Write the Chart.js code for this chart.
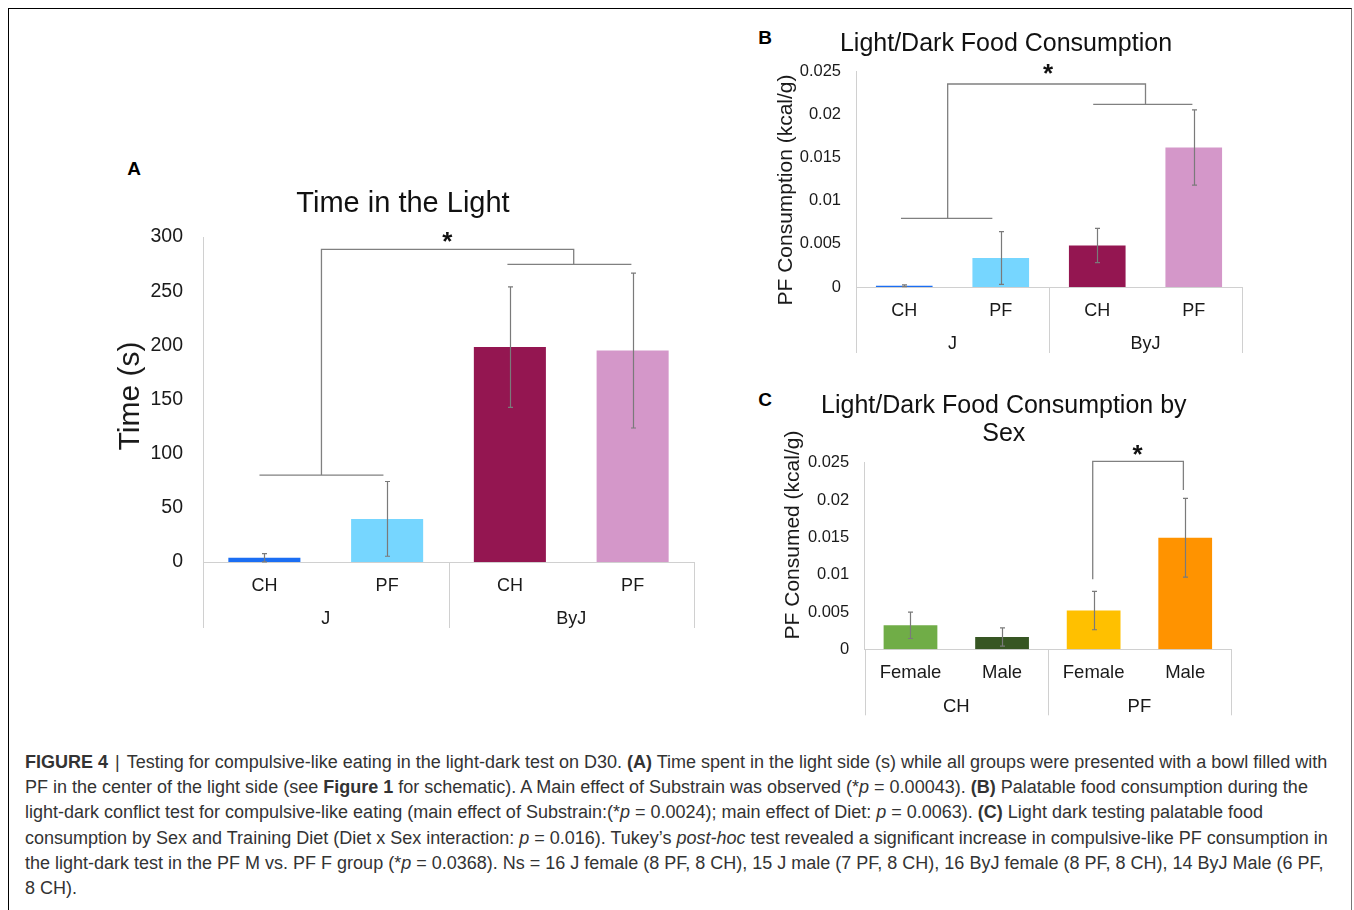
<!DOCTYPE html>
<html>
<head>
<meta charset="utf-8">
<script src="https://cdn.jsdelivr.net/npm/chart.js@4/dist/chart.umd.min.js"></script>
<style>
  html, body { margin: 0; padding: 0; background: #fff; overflow: hidden; }
  #fig { position: relative; width: 1354px; height: 910px; overflow: hidden; font-family: "Liberation Sans", Arial, sans-serif; }
  #frame { position: absolute; left: 8px; top: 8px; width: 1342px; height: 940px;
           border-top: 1.5px solid #000; border-left: 1.5px solid #000; border-right: 1.5px solid #777; }
  .panel { position: absolute; }
  .letter { position: absolute; font-weight: bold; font-size: 19px; line-height: 1; transform: translate(-50%, -50%); color: #000; }
  #caption { position: absolute; left: 25px; top: 750px; font-size: 18px; line-height: 25.2px; color: #333; }
  #caption div { white-space: nowrap; }
  #caption .sep { margin: 0 7px; }
</style>
</head>
<body>
<div id="fig">
  <div id="frame"></div>

  <div class="letter" style="left:134px;top:168px">A</div>
  <div class="letter" style="left:765px;top:37px">B</div>
  <div class="letter" style="left:765px;top:399px">C</div>

  <div class="panel" style="left:93px;top:150px"><canvas id="chartA" width="620" height="500"></canvas></div>
  <div class="panel" style="left:756px;top:15px"><canvas id="chartB" width="500" height="345"></canvas></div>
  <div class="panel" style="left:754px;top:380px"><canvas id="chartC" width="500" height="340"></canvas></div>

  <div id="caption">
    <div><b>FIGURE 4</b><span class="sep">|</span>Testing for compulsive-like eating in the light-dark test on D30. <b>(A)</b> Time spent in the light side (s) while all groups were presented with a bowl filled with</div>
    <div>PF in the center of the light side (see <b>Figure 1</b> for schematic). A Main effect of Substrain was observed (*<i>p</i> = 0.00043). <b>(B)</b> Palatable food consumption during the</div>
    <div>light-dark conflict test for compulsive-like eating (main effect of Substrain:(*<i>p</i> = 0.0024); main effect of Diet: <i>p</i> = 0.0063). <b>(C)</b> Light dark testing palatable food</div>
    <div>consumption by Sex and Training Diet (Diet x Sex interaction: <i>p</i> = 0.016). Tukey’s <i>post-hoc</i> test revealed a significant increase in compulsive-like PF consumption in</div>
    <div>the light-dark test in the PF M vs. PF F group (*<i>p</i> = 0.0368). Ns = 16 J female (8 PF, 8 CH), 15 J male (7 PF, 8 CH), 16 ByJ female (8 PF, 8 CH), 14 ByJ Male (6 PF,</div>
    <div>8 CH).</div>
  </div>
</div>

<script>
// ---- data ----
var catsA = ["CH", "PF", "CH", "PF"];
var groupsA = ["J", "ByJ"];
var timeA = [4, 39.8, 198.4, 195.2];
var semA = [3.8, 34.5, 55.6, 71.5];
var colorsA = ["#1b6ef3", "#76d6ff", "#941651", "#d497c9"];

var catsB = ["CH", "PF", "CH", "PF"];
var groupsB = ["J", "ByJ"];
var consB = [0.00015, 0.00337, 0.00482, 0.0162];
var semB = [0.0001, 0.00306, 0.00199, 0.00436];
var colorsB = ["#1b6ef3", "#76d6ff", "#941651", "#d497c9"];

var catsC = ["Female", "Male", "Female", "Male"];
var groupsC = ["CH", "PF"];
var consC = [0.00322, 0.00165, 0.00519, 0.01494];
var semC = [0.00177, 0.00123, 0.00257, 0.00528];
var colorsC = ["#70ad47", "#375623", "#ffc000", "#ff9300"];

// y axis ranges
var yMaxA = 300, yStepA = 50;
var yMaxB = 0.025, yStepB = 0.005;
var yMaxC = 0.025, yStepC = 0.005;

// significance brackets as [category index, value] polylines
var sigA = [
    [[-0.04, 80.2], [0.97, 80.2]],
    [[0.465, 80.2], [0.465, 288.6], [2.52, 288.6], [2.52, 274.7]],
    [[1.98, 274.7], [2.99, 274.7]]
];
var starA = [1.49, 301.5];
var sigB = [
    [[-0.034, 0.00797], [0.913, 0.00797]],
    [[0.45, 0.00797], [0.45, 0.02357], [2.5, 0.02357], [2.5, 0.02121]],
    [[1.958, 0.02121], [2.986, 0.02121]]
];
var starB = [1.49, 0.0255];
var sigC = [
    [[1.99, 0.00939], [1.99, 0.02518], [2.98, 0.02518], [2.98, 0.02133]]
];
var starC = [2.48, 0.0270];

var FONT = "'Liberation Sans', Arial, sans-serif";
var TEXT = "#1a1a1a";
var AXIS = "#d0d0d0";

// error bars, brackets, group axis and y title
var extrasPlugin = {
    id: "extras",
    afterDatasetsDraw: function (chart, args, o) {
        var ctx = chart.ctx;
        var xs = chart.scales.x, ys = chart.scales.y;
        var area = chart.chartArea;
        var vals = chart.data.datasets[0].data;
        var bars = chart.getDatasetMeta(0).data;
        ctx.save();

        // error bars
        ctx.strokeStyle = "#7a7a7a";
        ctx.lineWidth = 1.2;
        for (var i = 0; i < bars.length; i++) {
            var bx = Math.round(bars[i].x) + 0.5;
            var hi = ys.getPixelForValue(vals[i] + o.err[i]);
            var lo = ys.getPixelForValue(vals[i] - o.err[i]);
            ctx.beginPath();
            ctx.moveTo(bx, hi); ctx.lineTo(bx, lo);
            ctx.moveTo(bx - 2.5, hi); ctx.lineTo(bx + 2.5, hi);
            ctx.moveTo(bx - 2.5, lo); ctx.lineTo(bx + 2.5, lo);
            ctx.stroke();
        }

        // brackets
        ctx.strokeStyle = "#808080";
        ctx.lineWidth = 1.3;
        o.sig.forEach(function (line) {
            ctx.beginPath();
            line.forEach(function (p, k) {
                var px = xs.getPixelForValue(p[0]), py = ys.getPixelForValue(p[1]);
                if (k === 0) ctx.moveTo(px, py); else ctx.lineTo(px, py);
            });
            ctx.stroke();
        });
        ctx.fillStyle = "#111";
        ctx.font = "bold 26px " + FONT;
        ctx.textAlign = "center";
        ctx.textBaseline = "alphabetic";
        ctx.fillText("*", xs.getPixelForValue(o.star[0]), ys.getPixelForValue(o.star[1]) + 15);

        // group dividers + labels under the category labels
        ctx.strokeStyle = AXIS;
        ctx.lineWidth = 1;
        var per = chart.data.labels.length / o.groups.length;
        for (var g = 0; g <= o.groups.length; g++) {
            var gx = Math.round(xs.getPixelForValue(g * per - 0.5)) + 0.5;
            ctx.beginPath();
            ctx.moveTo(gx, area.bottom);
            ctx.lineTo(gx, area.bottom + 66);
            ctx.stroke();
        }
        ctx.fillStyle = TEXT;
        ctx.font = o.catSize + "px " + FONT;
        ctx.textBaseline = "middle";
        for (var k = 0; k < o.groups.length; k++) {
            ctx.fillText(o.groups[k], xs.getPixelForValue(k * per + (per - 1) / 2), area.bottom + 57.5);
        }

        // rotated y title
        ctx.translate(o.yTitle.x, o.yTitle.y);
        ctx.rotate(-Math.PI / 2);
        ctx.font = o.yTitle.size + "px " + FONT;
        ctx.fillText(o.yTitle.text, 0, 0);
        ctx.restore();
    }
};

function fmtTick(v) {
    return String(Number(v.toFixed(3)));
}

function makeBarChart(id, cats, vals, colors, err, groups, sig, star, lay) {
    var ctx = document.getElementById(id);
    return new Chart(ctx, {
        type: "bar",
        data: {
            labels: cats,
            datasets: [{
                data: vals,
                backgroundColor: colors,
                borderWidth: 0,
                categoryPercentage: 1,
                barPercentage: 0.587
            }]
        },
        plugins: [extrasPlugin],
        options: {
            responsive: false,
            animation: false,
            devicePixelRatio: 1,
            layout: { padding: { left: lay.padLeft, right: lay.padRight, top: 0, bottom: 0 } },
            plugins: {
                legend: { display: false },
                tooltip: { enabled: false },
                title: {
                    display: true,
                    text: lay.title,
                    color: "#111",
                    font: { family: FONT, size: lay.titleSize, weight: "normal", lineHeight: lay.titleLH },
                    padding: { top: lay.titleTop, bottom: lay.titleBottom }
                },
                extras: { err: err, groups: groups, sig: sig, star: star, catSize: lay.catSize, yTitle: lay.yTitle }
            },
            scales: {
                x: {
                    grid: { display: false, drawTicks: false },
                    border: { color: AXIS, width: 1 },
                    ticks: { color: TEXT, font: { family: FONT, size: lay.catSize }, padding: lay.catPad, maxRotation: 0, autoSkip: false },
                    afterFit: function (s) { s.height = lay.xHeight; }
                },
                y: {
                    min: 0,
                    max: lay.yMax,
                    grid: { display: false, drawTicks: false },
                    border: { color: AXIS, width: 1 },
                    ticks: { stepSize: lay.yStep, color: TEXT, font: { family: FONT, size: lay.tickSize }, padding: lay.tickPad, callback: fmtTick },
                    afterFit: function (s) { s.width = lay.yWidth; }
                }
            }
        }
    });
}

makeBarChart("chartA", catsA, timeA, colorsA, semA, groupsA, sigA, starA, {
    title: "Time in the Light", titleSize: 29, titleLH: 1.2, titleTop: 37, titleBottom: 15.2,
    padLeft: 19, padRight: 19, yWidth: 91, xHeight: 88,
    yMax: yMaxA, yStep: yStepA, tickSize: 19.5, tickPad: 20,
    catSize: 18, catPad: 13.2,
    yTitle: { text: "Time (s)", size: 30, x: 38, y: 246 }
});

makeBarChart("chartB", catsB, consB, colorsB, semB, groupsB, sigB, starB, {
    title: "Light/Dark Food Consumption", titleSize: 25, titleLH: 1.2, titleTop: 13.7, titleBottom: 13,
    padLeft: 14, padRight: 14, yWidth: 86, xHeight: 73,
    yMax: yMaxB, yStep: yStepB, tickSize: 16.5, tickPad: 15,
    catSize: 18, catPad: 13.2,
    yTitle: { text: "PF Consumption (kcal/g)", size: 21, x: 30.7, y: 175 }
});

makeBarChart("chartC", catsC, consC, colorsC, semC, groupsC, sigC, starC, {
    title: ["Light/Dark Food Consumption by", "Sex"], titleSize: 25, titleLH: 1.13, titleTop: 11.9, titleBottom: 14.3,
    padLeft: 22.6, padRight: 23, yWidth: 88.1, xHeight: 70.7,
    yMax: yMaxC, yStep: yStepC, tickSize: 16.5, tickPad: 15.5,
    catSize: 18.5, catPad: 12.8,
    yTitle: { text: "PF Consumed (kcal/g)", size: 21, x: 39.5, y: 155 }
});
</script>
</body>
</html>
